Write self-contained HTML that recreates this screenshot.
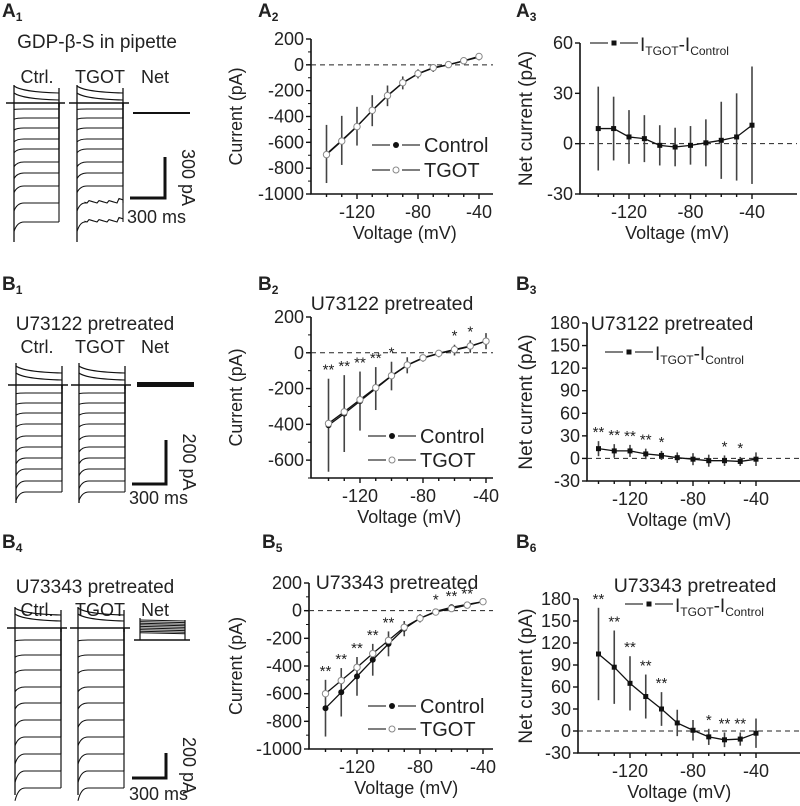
<!DOCTYPE html>
<html><head><meta charset="utf-8"><style>
body{margin:0;background:#fff}
svg{display:block;font-family:"Liberation Sans",Arial,sans-serif}
text{fill:#222}
</style></head><body>
<svg id="fig" width="800" height="806" viewBox="0 0 800 806" xmlns="http://www.w3.org/2000/svg">
<g id="traces"></g>
<g id="plots"></g>
</svg>
<script>
const volts=[-140,-130,-120,-110,-100,-90,-80,-70,-60,-50,-40];
// A2
const a2Control=[-690,-585,-475,-355,-240,-140,-70,-25,0,30,60];
const a2Tgot=[-695,-590,-478,-352,-238,-138,-68,-22,2,32,65];
const a2Err=[225,190,150,120,80,50,35,30,25,25,25];
// A3
const a3Net=[9,9,4,3,-1,-2,-1,0.5,2,4,11];
const a3Err=[25,19,16,14,12,11.5,11.5,14,23,26,35];
// B2
const b2Control=[-405,-340,-270,-200,-130,-70,-30,-5,15,35,65];
const b2Tgot=[-395,-330,-262,-195,-128,-68,-28,-3,18,38,65];
const b2Err=[260,215,165,120,80,45,20,20,30,35,45];
const b2Stars=["**","**","**","**","*","","","","*","*",""];
// B3
const b3Net=[13,10,10,6,4,1,-1,-3,-3,-4,-1];
const b3Err=[10,9,8,7,6,7,8,8,7,6,9];
const b3Stars=["**","**","**","**","*","","","","*","*",""];
// B5
const b5Control=[-705,-590,-475,-355,-240,-130,-55,-5,25,45,65];
const b5Tgot=[-600,-505,-410,-310,-215,-120,-55,-10,15,40,65];
const b5Err=[205,175,140,115,90,55,30,20,15,15,20];
const b5Stars=["**","**","**","**","**","","","*","**","**",""];
// B6
const b6Net=[105,87,65,47,30,11,1,-8,-12,-11,-3];
const b6Err=[63,50,37,30,23,18,14,11,10,9,20];
const b6Stars=["**","**","**","**","**","","","*","**","**",""];
const xTicks=[-120,-80,-40];

const NS="http://www.w3.org/2000/svg";
const plots=document.getElementById('plots');
function el(tag,attrs,parent,txt){const e=document.createElementNS(NS,tag);for(const k in attrs)e.setAttribute(k,attrs[k]);if(txt!==undefined)e.textContent=txt;(parent||plots).appendChild(e);return e;}

function ivPlot(cfg){
  const g=el('g',{});
  
  
  const sx=v=>cfg.x0+(v-(-120))*(cfg.x1-cfg.x0)/80;
  const sy=v=>cfg.yb+(v-cfg.ymin)*(cfg.yt-cfg.yb)/(cfg.ymax-cfg.ymin);
  const ax=el('path',{d:`M${cfg.ax},${sy(cfg.ymax)}V${cfg.yb}H${cfg.axr}`,stroke:'#111','stroke-width':1.6,fill:'none'},g);
  
  const z=el('line',{x1:cfg.ax,x2:cfg.axr,y1:sy(0),y2:sy(0),stroke:'#222','stroke-dasharray':'5,4','stroke-width':1},g);
  
  const t0=cfg.tickStart!==undefined?cfg.tickStart:cfg.ymin;
  for(let v=t0;v<=cfg.ymax+1e-9;v+=cfg.ystep){
    el('line',{x1:cfg.ax-5,x2:cfg.ax,y1:sy(v),y2:sy(v),stroke:'#111','stroke-width':1.4},g);
    const t=el('text',{x:cfg.ax-7,y:sy(v)+6,'text-anchor':'end','font-size':18},g,String(v));
    
  }
  if(cfg.minor){for(let v=cfg.ymin;v<cfg.ymax;v+=cfg.ystep/2)el('line',{x1:cfg.ax-3,x2:cfg.ax,y1:sy(v),y2:sy(v),stroke:'#111','stroke-width':1},g);}
  for(let v=-140;v<=-40;v+=10){const major=xTicks.includes(v);el('line',{x1:sx(v),x2:sx(v),y1:cfg.yb,y2:cfg.yb+(major?5:3),stroke:'#111','stroke-width':1.4},g);}
  xTicks.forEach(v=>{const t=el('text',{x:sx(v),y:cfg.yb+24,'text-anchor':'middle','font-size':18},g,String(v));});
  const xt=el('text',{x:(sx(-140)+sx(-40))/2+2,y:cfg.yb+45,'text-anchor':'middle','font-size':18},g,'Voltage (mV)');
  
  const yc=(cfg.yb+sy(cfg.ymax))/2;
  const ya={x:cfg.ytx,y:yc,'text-anchor':'middle','font-size':cfg.ytsize||18,transform:`rotate(-90 ${cfg.ytx} ${yc})`};
  if(cfg.ytlen){ya.textLength=cfg.ytlen;ya.lengthAdjust='spacingAndGlyphs';}
  const yt=el('text',ya,g,cfg.ytitle);
  
  cfg.series.forEach(s=>{
    s.vals.forEach((v,i)=>{
      if(s.err){const e=el('line',{x1:sx(volts[i]),x2:sx(volts[i]),y1:sy(v+s.err[i]),y2:sy(v-s.err[i]),stroke:'#444','stroke-width':1.6},g);}
    });
    const pl=el('polyline',{points:s.vals.map((v,i)=>sx(volts[i])+','+sy(v)).join(' '),fill:'none',stroke:'#111','stroke-width':1.3},g);
    
  });
  cfg.series.forEach(s=>{
    s.vals.forEach((v,i)=>{
      let m;
      if(s.mark==='sq')m=el('rect',{x:sx(volts[i])-2.5,y:sy(v)-2.5,width:5,height:5,fill:'#111'},g);
      else if(s.mark==='open')m=el('circle',{cx:sx(volts[i]),cy:sy(v),r:3.2,fill:'#fff',stroke:'#888','stroke-width':1},g);
      else m=el('circle',{cx:sx(volts[i]),cy:sy(v),r:3,fill:'#111'},g);
      
    });
  });
  if(cfg.stars){cfg.stars.forEach((s,i)=>{if(!s)return;const top=Math.max(...cfg.series.map(se=>se.vals[i]+(se.err?se.err[i]:0)));const t=el('text',{x:sx(volts[i]),y:sy(top)-4,'text-anchor':'middle','font-size':15},g,s);});}
  cfg.legend.forEach(L=>{
    const lg=el('g',{},g);
    el('line',{x1:L.x,x2:L.x+18,y1:L.y,y2:L.y,stroke:'#333','stroke-width':1.2},lg);
    el('line',{x1:L.x+30,x2:L.x+48,y1:L.y,y2:L.y,stroke:'#333','stroke-width':1.2},lg);
    if(L.mark==='sq')el('rect',{x:L.x+21.5,y:L.y-2.5,width:5,height:5,fill:'#111'},lg);
    else if(L.mark==='open')el('circle',{cx:L.x+24,cy:L.y,r:3,fill:'#fff',stroke:'#888'},lg);
    else el('circle',{cx:L.x+24,cy:L.y,r:3,fill:'#111'},lg);
    if(L.net){const t=el('text',{x:L.x+50,y:L.y+8,'font-size':19},lg);
      t.innerHTML='I<tspan font-size="12" dy="4">TGOT</tspan><tspan dy="-4">-I</tspan><tspan font-size="12" dy="4">Control</tspan>';}
    else el('text',{x:L.x+52,y:L.y+7,'font-size':20},lg,L.text);
  });
  if(cfg.title){const t=el('text',{x:cfg.title.x,y:cfg.title.y,'text-anchor':'middle','font-size':19.5},g,cfg.title.t);}
}

ivPlot({name:'a2-iv-plot',ax:311,axr:493,x0:357,x1:479,yb:194,yt:39,ymin:-1000,ymax:200,ystep:200,minor:true,ytx:242,ytlen:98,ytsize:18,ytitle:'Current (pA)',
 series:[{name:'control',vals:a2Control,err:a2Err,mark:'fill'},{name:'tgot',vals:a2Tgot,mark:'open'}],
 legend:[{x:372,y:145,mark:'fill',text:'Control'},{x:372,y:170,mark:'open',text:'TGOT'}]});
ivPlot({name:'a3-net-plot',ax:580,axr:797,x0:629,x1:752,yb:194,yt:43,ymin:-30,ymax:60,ystep:30,ytx:532,ytitle:'Net current (pA)',ytsize:19,
 series:[{name:'net',vals:a3Net,err:a3Err,mark:'sq'}],
 legend:[{x:590,y:43,mark:'sq',net:true}]});
ivPlot({name:'b2-iv-plot',ax:311,axr:493,x0:360,x1:486,yb:478,yt:317,ymin:-700,ymax:200,ystep:200,tickStart:-600,minor:true,ytx:242,ytlen:98,ytsize:18,ytitle:'Current (pA)',
 series:[{name:'control',vals:b2Control,err:b2Err,mark:'fill'},{name:'tgot',vals:b2Tgot,mark:'open'}],stars:b2Stars,
 legend:[{x:368,y:436,mark:'fill',text:'Control'},{x:368,y:460,mark:'open',text:'TGOT'}],title:{x:392,y:310,t:'U73122 pretreated'}});
ivPlot({name:'b3-net-plot',ax:587,axr:800,x0:630,x1:756,yb:481,yt:323,ymin:-30,ymax:180,ystep:30,ytx:532,ytitle:'Net current (pA)',ytsize:19,
 series:[{name:'net',vals:b3Net,err:b3Err,mark:'sq'}],stars:b3Stars,
 legend:[{x:605,y:352,mark:'sq',net:true}],title:{x:672,y:330,t:'U73122 pretreated'}});
ivPlot({name:'b5-iv-plot',ax:309,axr:493,x0:357,x1:483,yb:749,yt:583,ymin:-1000,ymax:200,ystep:200,minor:true,ytx:242,ytlen:98,ytsize:18,ytitle:'Current (pA)',
 series:[{name:'control',vals:b5Control,err:b5Err,mark:'fill'},{name:'tgot',vals:b5Tgot,mark:'open'}],stars:b5Stars,
 legend:[{x:368,y:706,mark:'fill',text:'Control'},{x:368,y:729,mark:'open',text:'TGOT'}],title:{x:397,y:589,t:'U73343 pretreated'}});
ivPlot({name:'b6-net-plot',ax:578,axr:800,x0:630,x1:756,yb:753,yt:599,ymin:-30,ymax:180,ystep:30,ytx:532,ytitle:'Net current (pA)',ytsize:19,
 series:[{name:'net',vals:b6Net,err:b6Err,mark:'sq'}],stars:b6Stars,
 legend:[{x:625,y:604,mark:'sq',net:true}],title:{x:695,y:592,t:'U73343 pretreated'}});

[['A','1',2,17],['A','2',258,17],['A','3',516,17],['B','1',2,290],['B','2',258,290],['B','3',516,290],['B','4',2,548],['B','5',262,548],['B','6',516,548]].forEach(p=>{
  const t=el('text',{x:p[2],y:p[3],'font-size':19,'font-weight':'bold'});
  t.innerHTML=p[0]+'<tspan font-size="12" dy="4">'+p[1]+'</tspan>';
  
  
});

const tr=document.getElementById('traces');
function traceGroup(name,ox,top,hold,bottom,levels,w,noisy){
  const g=el('g',{},tr);
  el('line',{x1:ox,x2:ox,y1:top,y2:bottom,stroke:'#111','stroke-width':1.3},g);
  el('line',{x1:ox+w,x2:ox+w,y1:top+3,y2:hold+4,stroke:'#111','stroke-width':1.3},g);
  el('line',{x1:ox-8,x2:ox+w+6,y1:hold,y2:hold,stroke:'#111','stroke-width':1.4},g);
  levels.forEach((y,i)=>{
    let d;
    if(y<hold){d=`M${ox},${y-4} Q${ox+8},${y+2} ${ox+w},${y+3}`;}
    else{const sag=(y-hold)*0.08;d=`M${ox},${y+sag} Q${ox+3},${y} ${ox+10},${y} L${ox+w},${y}`;
      if(noisy&&i>=levels.length-2){let s=`M${ox},${y+sag} Q${ox+3},${y} ${ox+8},${y}`;for(let k=8;k<=w;k+=2)s+=` L${ox+k},${y-((k*7)%5)*0.6+(k>w-6?-2:0)}`;d=s;}}
    el('path',{d:d,fill:'none',stroke:'#111','stroke-width':1.1},g);
    if(y>hold)el('line',{x1:ox+w,x2:ox+w,y1:y,y2:hold,stroke:'#111','stroke-width':1.1},g);
  });
}
function label(x,y,t,fs,name){const e=el('text',{x:x,y:y,'font-size':fs,'text-anchor':'middle'},tr,t);return e;}
function scaleBar(x,y1,y2,x0,ptext,ty){
  const g=el('g',{},tr);
  el('path',{d:`M${x},${y1}V${y2}H${x0}`,stroke:'#111','stroke-width':3,fill:'none'},g);
  const cy=(y1+y2)/2;
  el('text',{x:x+17,y:cy,'font-size':18,'text-anchor':'middle',transform:`rotate(90 ${x+17} ${cy})`},g,ptext);
  el('text',{x:x0-3,y:ty,'font-size':18},g,'300 ms');
}
label(97,48,'GDP-β-S in pipette',19,'a1-condition-title');
label(37,83,'Ctrl.',18,'ctrl-label');label(100,83,'TGOT',18,'tgot-label');label(155,83,'Net',18,'net-label');
const a1L=[90,97,109,118,128,139,149,162,173,186,203,222];
traceGroup('a1-ctrl-traces',14,85,103,242,a1L,45,false);
traceGroup('a1-tgot-traces',77,85,103,242,a1L,46,true);
el('path',{d:'M133,113 L190,113',stroke:'#111','stroke-width':2},tr);
scaleBar(165,157,198,130,'300 pA',223);
label(95,330,'U73122 pretreated',19,'b1-condition-title');
label(37,353,'Ctrl.',18,'ctrl-label');label(100,353,'TGOT',18,'tgot-label');label(155,353,'Net',18,'net-label');
const b1L=[370,377,393,403,413,424,436,447,458,469,481,492];
traceGroup('b1-ctrl-traces',16,363,385,503,b1L,46,false);
traceGroup('b1-tgot-traces',79,363,385,503,b1L,46,false);
el('rect',{x:137,y:382,width:57,height:5,fill:'#111'},tr);
scaleBar(166,440,484,132,'200 pA',504);
label(95,593,'U73343 pretreated',19,'b4-condition-title');
label(37,616,'Ctrl.',18,'ctrl-label');label(100,616,'TGOT',18,'tgot-label');label(155,616,'Net',18,'net-label');
const b4L=[612,618,640,655,670,687,703,720,737,754,771,788];
traceGroup('b4-ctrl-traces',15,607,628,795,b4L,46,false);
traceGroup('b4-tgot-traces',78,607,628,795,b4L,46,false);
{const g=el('g',{},tr);
 el('line',{x1:140,x2:140,y1:618,y2:640,stroke:'#111','stroke-width':1.2},g);
 el('line',{x1:185,x2:185,y1:620,y2:640,stroke:'#111','stroke-width':1.2},g);
 for(let k=0;k<9;k++)el('line',{x1:140,x2:185,y1:620+k*1.6,y2:621+k*1.6,stroke:'#111','stroke-width':1},g);
 el('line',{x1:134,x2:190,y1:640,y2:640,stroke:'#111','stroke-width':1.6},g);}
scaleBar(166,753,778,132,'200 pA',800);
</script>
</body></html>
